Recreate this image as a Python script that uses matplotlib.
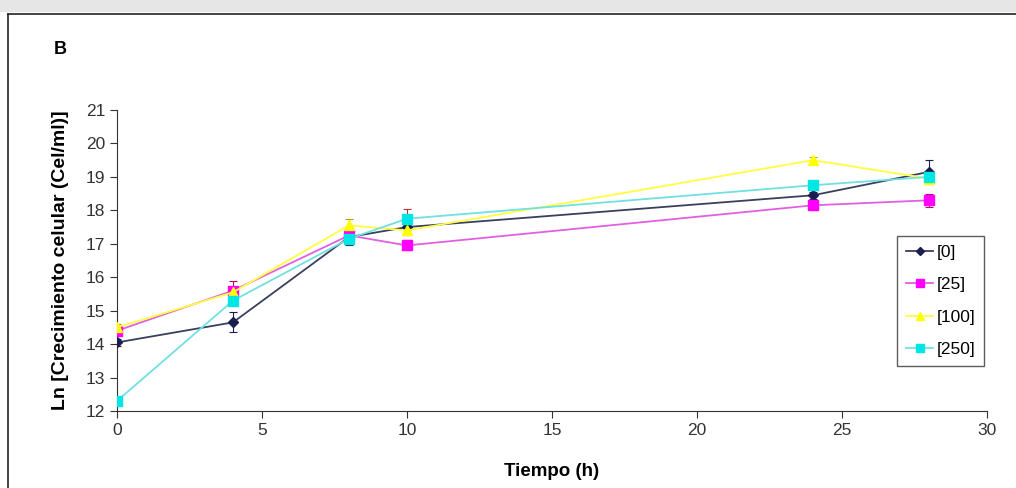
import matplotlib
matplotlib.use("Agg")
import matplotlib.pyplot as plt
from matplotlib.patches import Rectangle
from matplotlib.lines import Line2D

plt.rcParams["font.family"] = ["Liberation Sans", "DejaVu Sans"]

t = [0, 4, 8, 10, 24, 28]
labels = ["[0]", "[25]", "[100]", "[250]"]
s0 = [14.05, 14.65, 17.2, 17.5, 18.45, 19.15]
s25 = [14.4, 15.6, 17.25, 16.95, 18.15, 18.3]
s100 = [14.5, 15.55, 17.55, 17.4, 19.5, 18.95]
s250 = [12.3, 15.3, 17.15, 17.75, 18.75, 19.0]
e0 = [0.1, 0.3, 0.25, 0.1, 0.1, 0.35]
e25 = [0.1, 0.3, 0.1, 0.15, 0.15, 0.2]
e100 = [0.1, 0.1, 0.2, 0.15, 0.1, 0.1]
e250 = [0.1, 0.1, 0.15, 0.3, 0.1, 0.1]

series = [s0, s25, s100, s250]
errs = [e0, e25, e100, e250]
colors = ["#1a1f4e", "#ff00ff", "#ffff00", "#00e5e5"]
linecolors = ["#3a3f5e", "#e060e0", "#ffff40", "#70e0e0"]
markers = ["D", "s", "^", "s"]
msizes = [5, 7.5, 7, 7.5]

fig = plt.figure(figsize=(10.16, 4.88), dpi=100)
fig.patch.set_facecolor("white")

# top gray band and frame
fig.add_artist(Rectangle((0, 1 - 12 / 488), 1, 12 / 488, transform=fig.transFigure,
                         facecolor="#e6e6e6", edgecolor="none"))
fig.add_artist(Line2D([8 / 1016, 8 / 1016], [0, 1 - 14 / 488], transform=fig.transFigure,
                      color="#222222", lw=1.2))
fig.add_artist(Line2D([8 / 1016, 1], [1 - 14 / 488, 1 - 14 / 488], transform=fig.transFigure,
                      color="#222222", lw=1.2))

ax = fig.add_axes([117 / 1016, 1 - 411 / 488, (987 - 117) / 1016, (411 - 110) / 488])

err_colors = ["#1a1f4e", "#c00060", "#c0a000", "#c03030"]
for y, e, c, lc, m, ms, lab, ec in zip(series, errs, colors, linecolors, markers, msizes, labels, err_colors):
    ax.errorbar(t, y, yerr=e, fmt="none", ecolor=ec, elinewidth=0.8, capsize=3, capthick=0.8, zorder=2)
    ax.plot(t, y, color=lc, lw=1.3, marker=m, markersize=ms, markerfacecolor=c,
            markeredgecolor=c, label=lab, zorder=3)

ax.set_xlim(0, 30)
ax.set_ylim(12, 21)
ax.set_xticks(range(0, 31, 5))
ax.set_yticks(range(12, 22))
for side in ["top", "right"]:
    ax.spines[side].set_visible(False)
for side in ["left", "bottom"]:
    ax.spines[side].set_color("#333333")
ax.tick_params(direction="out", length=5, colors="#333333", labelsize=12.5)
ax.set_xlabel("Tiempo (h)", fontsize=13.5, fontweight="bold", labelpad=18)
ax.set_ylabel("Ln [Crecimiento celular (Cel/ml)]", fontsize=14, fontweight="bold", labelpad=12)

leg = ax.legend(loc="upper left", bbox_to_anchor=((897 - 117) / 870, 1 - (236 - 110) / 301),
                borderaxespad=0, frameon=True, fancybox=False, fontsize=12.5, handlelength=1.6,
                borderpad=0.5, labelspacing=1.0, handletextpad=0.2, markerscale=0.75)
leg.get_frame().set_edgecolor("#333333")
leg.get_frame().set_linewidth(1.0)

fig.text(54 / 1016, 1 - 50 / 488, "B", fontsize=13, fontweight="bold", va="center")

fig.savefig("out.png", dpi=100)
